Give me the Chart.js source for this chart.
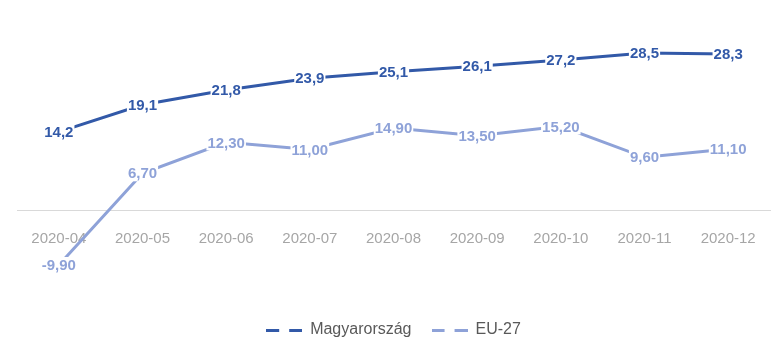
<!DOCTYPE html>
<html>
<head>
<meta charset="utf-8">
<script src="https://cdn.jsdelivr.net/npm/chart.js@4/dist/chart.umd.min.js"></script>
<style>
  html, body { margin: 0; padding: 0; background: #ffffff; }
  #wrap { width: 782px; height: 356px; position: relative; }
</style>
</head>
<body>
<div id="wrap"><canvas id="c" width="782" height="356"></canvas></div>
<script>
const categories = ['2020-04','2020-05','2020-06','2020-07','2020-08','2020-09','2020-10','2020-11','2020-12'];
const magyarorszag = [14.2, 19.1, 21.8, 23.9, 25.1, 26.1, 27.2, 28.5, 28.3];
const eu27 = [-9.9, 6.7, 12.3, 11.0, 14.9, 13.5, 15.2, 9.6, 11.1];
const seriesNames = ['Magyarország', 'EU-27'];
const labelDecimals = [1, 2];

const darkBlue = '#3259A8';
const lightBlue = '#8EA2D8';

function dashIcon(color) {
  const cv = document.createElement('canvas');
  cv.width = 36; cv.height = 3;
  const c = cv.getContext('2d');
  c.fillStyle = color;
  c.fillRect(0, 0, 13, 3);
  c.fillRect(23, 0, 13, 3);
  return cv;
}

const dataLabelPlugin = {
  id: 'dataLabels',
  afterDatasetsDraw(chart) {
    const ctx = chart.ctx;
    ctx.save();
    ctx.font = 'bold 15px "Liberation Sans", Arial, sans-serif';
    ctx.textAlign = 'center';
    ctx.textBaseline = 'middle';
    chart.data.datasets.forEach((ds, di) => {
      const meta = chart.getDatasetMeta(di);
      meta.data.forEach((pt, i) => {
        const txt = ds.data[i].toFixed(labelDecimals[di]).replace('.', ',');
        const w = ctx.measureText(txt).width;
        ctx.fillStyle = '#ffffff';
        ctx.fillRect(pt.x - w / 2 - 1, pt.y - 8, w + 2, 16);
        ctx.fillStyle = ds.borderColor;
        ctx.fillText(txt, pt.x, pt.y + 1);
      });
    });
    ctx.restore();
  }
};

new Chart(document.getElementById('c'), {
  type: 'line',
  data: {
    labels: categories,
    datasets: [
      { label: seriesNames[0], data: magyarorszag, borderColor: darkBlue, backgroundColor: darkBlue, borderWidth: 3, pointRadius: 0, tension: 0 },
      { label: seriesNames[1], data: eu27, borderColor: lightBlue, backgroundColor: lightBlue, borderWidth: 3, pointRadius: 0, tension: 0 }
    ]
  },
  options: {
    responsive: false,
    animation: false,
    devicePixelRatio: 1,
    layout: { padding: { top: 17, left: 17, right: 12, bottom: 8 } },
    scales: {
      x: {
        type: 'category',
        offset: true,
        position: { y: 0 },
        grid: { display: false, drawTicks: false },
        border: { display: true, color: '#d9d9d9', width: 1 },
        ticks: { color: '#a6a6a6', font: { size: 15, family: '"Liberation Sans", Arial, sans-serif' }, padding: 20, maxRotation: 0 }
      },
      y: {
        display: false,
        min: -16.6,
        max: 35
      }
    },
    plugins: {
      legend: {
        position: 'bottom',
        labels: {
          color: '#595959',
          font: { size: 16, family: '"Liberation Sans", Arial, sans-serif' },
          usePointStyle: true,
          pointStyleWidth: 36,
          boxHeight: 3,
          padding: 20,
          generateLabels(chart) {
            return chart.data.datasets.map((ds, i) => ({
              text: ds.label,
              fillStyle: ds.borderColor,
              strokeStyle: ds.borderColor,
              lineWidth: 0,
              pointStyle: dashIcon(ds.borderColor),
              fontColor: '#595959',
              hidden: false,
              datasetIndex: i
            }));
          }
        }
      },
      tooltip: { enabled: false }
    }
  },
  plugins: [dataLabelPlugin]
});
</script>
</body>
</html>
